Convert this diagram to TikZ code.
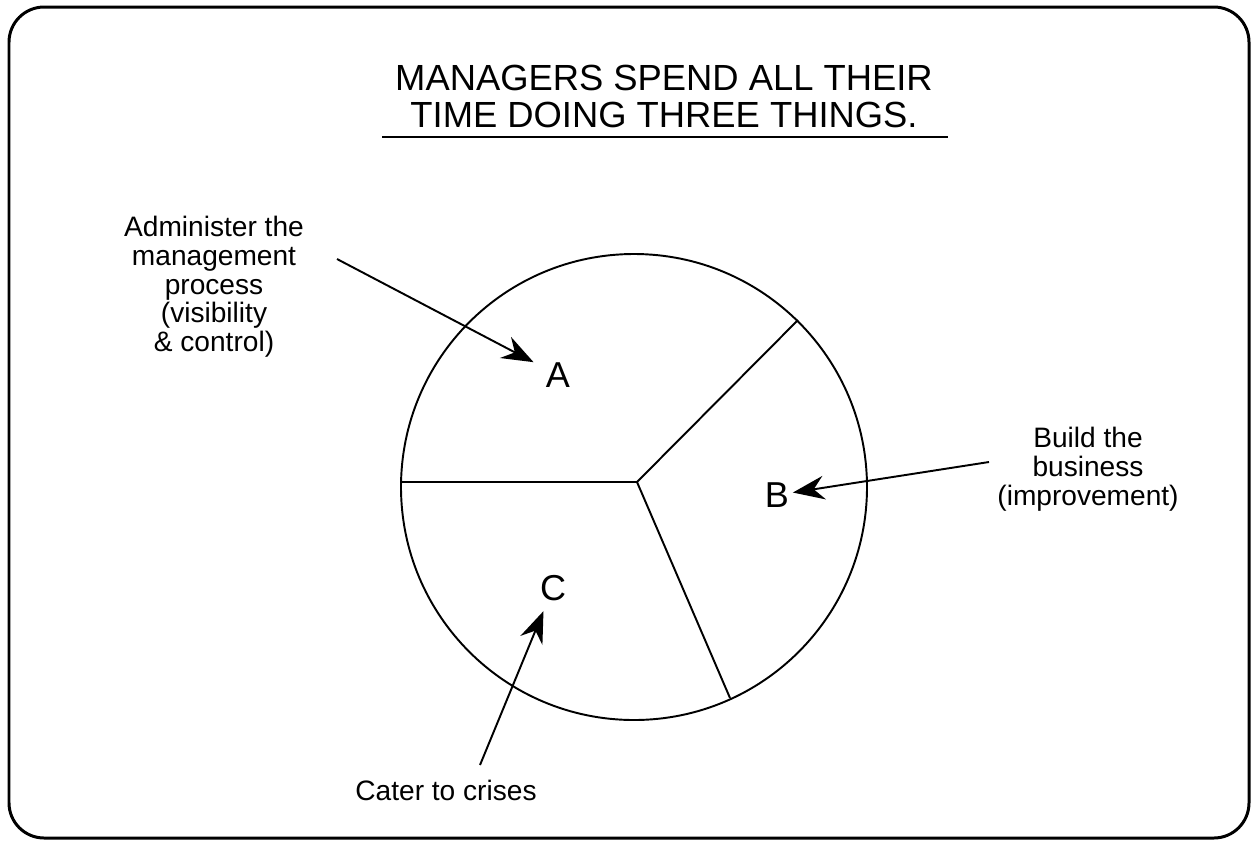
\documentclass[tikz,border=0pt]{standalone}
\usepackage{fontspec}
\setmainfont{Liberation Sans}
\usetikzlibrary{arrows.meta, positioning}

\tikzset{
  pointer/.style={-{Stealth[length=18pt, width=13.5pt, inset=6pt]}, line width=1.1pt},
  slice/.style={line width=1.1pt},
  caption/.style={align=center, inner sep=0pt, font=\fontsize{16}{16.3}\selectfont},
  headline/.style={align=center, inner sep=0pt, font=\fontsize{20.7}{21}\selectfont},
  letter/.style={inner sep=2pt, font=\fontsize{20.5}{21}\selectfont},
}

\begin{document}
\begin{tikzpicture}[x=0.02cm, y=-0.02cm]
\useasboundingbox (0,0) rectangle (1251,840);
\coordinate (ctr) at (634,487);
\coordinate (J) at (637,482);
\coordinate (pL) at (401,482);
\coordinate (pR) at (798,320);
\coordinate (pB) at (730,698);

% frame
\draw[line width=1.7pt, rounded corners=20pt] (9,7) rectangle (1249,838);

% title
\node[headline, anchor=north] (title) at (664,65) {MANAGERS SPEND ALL THEIR\\TIME DOING THREE THINGS.};
\draw[line width=1.2pt] (382,137) -- (948,137);

% pie
\draw[slice] (ctr) circle [radius=233];
\foreach \p in {pL,pR,pB} {
  \draw[slice] (J) -- (\p);
}

\node[letter] (A) at (558,375) {A};
\node[letter] (B) at (777,495) {B};
\node[letter] (C) at (553,588) {C};

% labels
\node[caption, anchor=north] (admin) at (214,216) {Administer the\\management\\process\\(visibility\\\& control)};
\node[caption, anchor=north] (build) at (1088,427) {Build the\\business\\(improvement)};
\node[caption, anchor=base] (cater) at (446,800) {Cater to crises};

\coordinate (tailA) at (337,259);
\coordinate (tailB) at (989,462);
\coordinate (tailC) at (480,765);

\draw[pointer, shorten >=5.5pt] (tailA) -- (A);
\draw[pointer] (tailB) -- (B);
\draw[pointer, shorten >=4pt] (tailC) -- (C);
\end{tikzpicture}
\end{document}
